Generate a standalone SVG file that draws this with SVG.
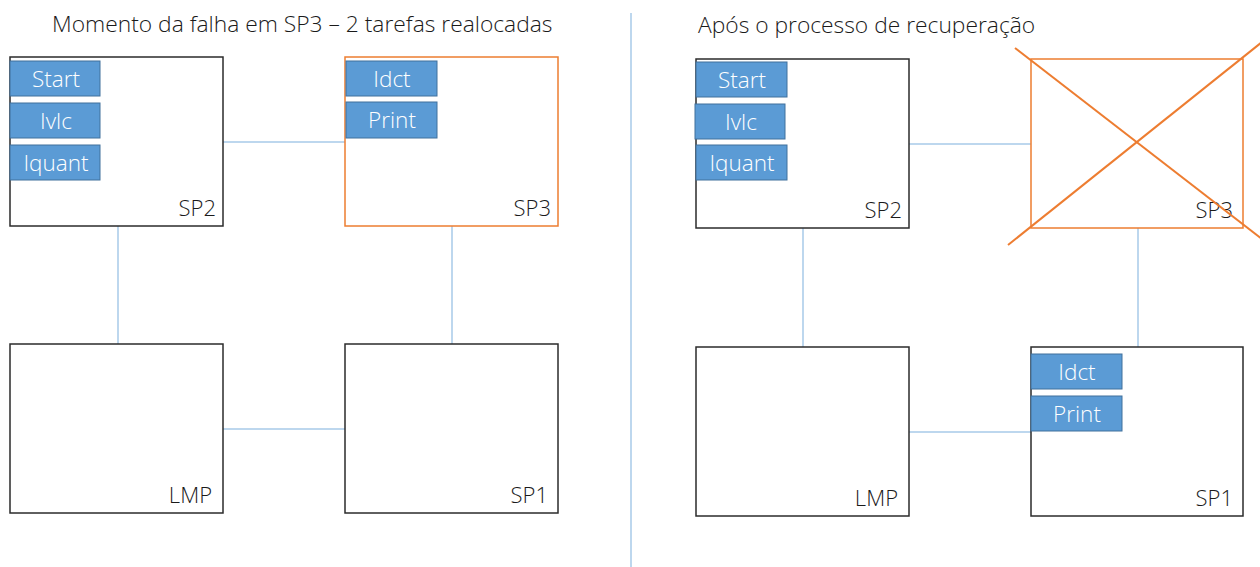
<svg xmlns="http://www.w3.org/2000/svg" width="1260" height="567" viewBox="0 0 1260 567">
  <style>
    .title { font-family: "Open Sans", "Liberation Sans", sans-serif; font-weight: 300; font-size: 22.8px; fill: #1a1a1a; }
    .proc { fill: #ffffff; stroke: #2b2b2b; stroke-width: 1.5; }
    .failed { fill: #ffffff; stroke: #ed7d31; stroke-width: 1.5; }
    .plabel { font-family: "Open Sans", "Liberation Sans", sans-serif; font-weight: 300; font-size: 22px; fill: #1a1a1a; text-anchor: end; }
    .task { fill: #5b9bd5; stroke: #41719c; stroke-width: 1; }
    .tlabel { font-family: "Open Sans", "Liberation Sans", sans-serif; font-weight: 300; font-size: 22.5px; fill: #ffffff; text-anchor: middle; }
    .link { stroke: #bdd7ee; stroke-width: 2; fill: none; }
    .cross { stroke: #ed7d31; stroke-width: 2; }
  </style>

  <!-- panel separator -->
  <line class="link" x1="631" y1="13" x2="631" y2="567"/>

  <text class="title" x="52" y="32">Momento da falha em SP3 – 2 tarefas realocadas</text>
  <text class="title" x="698" y="33">Após o processo de recuperação</text>

  <!-- links between processors -->
  <g id="connectors">
    <line class="link" x1="223" y1="142" x2="345" y2="142"/>
    <line class="link" x1="118" y1="226" x2="118" y2="344"/>
    <line class="link" x1="452" y1="226" x2="452" y2="344"/>
    <line class="link" x1="223" y1="429" x2="345" y2="429"/>

    <line class="link" x1="909" y1="144" x2="1031" y2="144"/>
    <line class="link" x1="803" y1="228" x2="803" y2="347"/>
    <line class="link" x1="1138" y1="228" x2="1138" y2="347"/>
    <line class="link" x1="909" y1="432" x2="1031" y2="432"/>
  </g>

  <!-- left: at the moment of failure -->
  <g id="sp2-a">
    <rect class="proc" x="10" y="57" width="213" height="169"/>
    <text class="plabel" x="216" y="216">SP2</text>
  </g>
  <g id="sp3-a">
    <rect class="failed" x="345" y="57" width="213" height="169"/>
    <text class="plabel" x="551" y="216">SP3</text>
  </g>
  <g id="lmp-a">
    <rect class="proc" x="10" y="344" width="213" height="169"/>
    <text class="plabel" x="212" y="503">LMP</text>
  </g>
  <g id="sp1-a">
    <rect class="proc" x="345" y="344" width="213" height="169"/>
    <text class="plabel" x="548" y="503">SP1</text>
  </g>
  <g id="start-a">
    <rect class="task" x="10" y="61" width="90" height="35"/>
    <text class="tlabel" x="56" y="87">Start</text>
  </g>
  <g id="ivlc-a">
    <rect class="task" x="10" y="103" width="90" height="35"/>
    <text class="tlabel" x="56" y="129">Ivlc</text>
  </g>
  <g id="iquant-a">
    <rect class="task" x="10" y="145" width="90" height="35"/>
    <text class="tlabel" x="56" y="171">Iquant</text>
  </g>
  <g id="idct-a">
    <rect class="task" x="346" y="61" width="91" height="35"/>
    <text class="tlabel" x="392" y="87">Idct</text>
  </g>
  <g id="print-a">
    <rect class="task" x="346" y="102" width="91" height="36"/>
    <text class="tlabel" x="392" y="128">Print</text>
  </g>

  <!-- right: after recovery -->
  <g id="sp2-b">
    <rect class="proc" x="696" y="59" width="213" height="169"/>
    <text class="plabel" x="902" y="218">SP2</text>
  </g>
  <g id="sp3-b">
    <rect class="failed" x="1031" y="59" width="212" height="169"/>
    <text class="plabel" x="1233" y="218">SP3</text>
    <line class="cross" x1="1015" y1="48" x2="1262" y2="239"/>
    <line class="cross" x1="1008" y1="245" x2="1262" y2="42"/>
  </g>
  <g id="lmp-b">
    <rect class="proc" x="696" y="347" width="213" height="169"/>
    <text class="plabel" x="898" y="506">LMP</text>
  </g>
  <g id="sp1-b">
    <rect class="proc" x="1031" y="347" width="212" height="169"/>
    <text class="plabel" x="1233" y="506">SP1</text>
  </g>
  <g id="start-b">
    <rect class="task" x="696" y="62" width="91" height="35"/>
    <text class="tlabel" x="742" y="88">Start</text>
  </g>
  <g id="ivlc-b">
    <rect class="task" x="695" y="104" width="90" height="35"/>
    <text class="tlabel" x="741" y="130">Ivlc</text>
  </g>
  <g id="iquant-b">
    <rect class="task" x="696" y="145" width="91" height="35"/>
    <text class="tlabel" x="742" y="171">Iquant</text>
  </g>
  <g id="idct-b">
    <rect class="task" x="1031" y="354" width="91" height="35"/>
    <text class="tlabel" x="1077" y="380">Idct</text>
  </g>
  <g id="print-b">
    <rect class="task" x="1031" y="396" width="91" height="35"/>
    <text class="tlabel" x="1077" y="422">Print</text>
  </g>
</svg>
